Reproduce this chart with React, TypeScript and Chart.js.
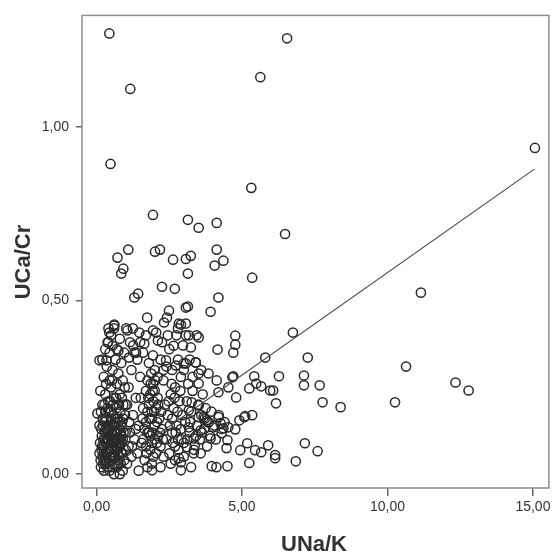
import React, { useEffect, useRef } from "react";
import { Chart, registerables } from "chart.js";

Chart.register(...registerables);

// ---- Data (UNa/K on x, UCa/Cr on y) ----
const sparsePoints: number[][] = [
  [0.44, 1.27], [1.16, 1.11], [0.48, 0.894], [6.55, 1.256], [5.63, 1.144], [5.32, 0.825],
  [6.48, 0.692], [15.07, 0.94], [11.15, 0.523], [6.75, 0.408], [7.26, 0.336], [10.64, 0.31],
  [12.34, 0.264], [12.79, 0.241], [6.27, 0.282], [7.13, 0.284], [7.13, 0.256], [7.67, 0.256],
  [7.77, 0.207], [8.39, 0.193], [10.26, 0.207], [7.16, 0.089], [7.6, 0.066], [6.85, 0.037],
  [6.14, 0.046], [6.17, 0.204], [6.07, 0.241],
];

const upperPoints: number[][] = [
  [1.94, 0.747], [3.14, 0.733], [3.51, 0.71], [4.13, 0.724], [4.13, 0.647], [4.36, 0.615],
  [4.06, 0.601], [3.24, 0.629], [3.07, 0.62], [3.14, 0.578], [5.35, 0.566], [4.19, 0.509],
  [3.14, 0.483], [3.92, 0.468], [1.09, 0.647], [0.72, 0.624], [2.01, 0.641], [2.18, 0.647],
  [2.63, 0.618], [0.92, 0.592], [0.85, 0.578], [2.25, 0.54], [2.69, 0.534], [1.43, 0.52],
  [1.3, 0.509], [1.74, 0.451], [2.49, 0.471], [2.42, 0.451], [3.07, 0.48], [0.61, 0.431],
  [2.9, 0.431], [1.02, 0.42], [0.41, 0.42],
];

const midRangePoints: number[][] = [
  [4.77, 0.399], [4.77, 0.373], [4.7, 0.35], [4.16, 0.359], [5.8, 0.336], [5.42, 0.282],
  [4.7, 0.282], [4.8, 0.221], [5.25, 0.247], [5.66, 0.253], [5.97, 0.241], [5.35, 0.17],
  [5.08, 0.164], [4.91, 0.155], [4.77, 0.129], [5.18, 0.089], [4.94, 0.069], [5.45, 0.069],
  [5.66, 0.063], [5.9, 0.083], [6.14, 0.055], [5.25, 0.032], [4.5, 0.023], [4.12, 0.02],
  [3.96, 0.023], [4.5, 0.098], [4.3, 0.118], [4.53, 0.135], [4.19, 0.164], [3.85, 0.149],
  [3.51, 0.164], [3.58, 0.06], [3.38, 0.083], [2.9, 0.011], [2.9, 0.034], [1.91, 0.011],
  [2.83, 0.046], [4.19, 0.236], [3.85, 0.29], [3.51, 0.261], [3.27, 0.207], [3.51, 0.198],
  [3.17, 0.184], [3.41, 0.322], [4.13, 0.27], [4.67, 0.279], [4.53, 0.25], [5.49, 0.261],
  [5.11, 0.167], [4.36, 0.132], [3.92, 0.103], [4.47, 0.075], [3.68, 0.164], [3.58, 0.126],
  [3.17, 0.135], [3.34, 0.103], [3.78, 0.155], [4.02, 0.135], [4.26, 0.147], [3.1, 0.078],
  [3.34, 0.06], [3.07, 0.4], [3.44, 0.4], [3.24, 0.365], [3.07, 0.319],
];

const lowerBandPoints: number[][] = [
  [0.61, 0.428], [0.44, 0.408], [0.38, 0.38], [1.06, 0.414], [1.47, 0.408], [2.05, 0.408],
  [2.83, 0.434], [3.07, 0.434], [3.17, 0.4], [3.51, 0.394], [0.1, 0.328], [1.12, 0.336],
  [1.36, 0.35], [2.39, 0.328], [2.73, 0.313], [3.0, 0.319], [3.41, 0.322], [3.51, 0.29],
  [1.94, 0.414], [2.32, 0.437], [2.8, 0.42], [2.97, 0.371], [0.34, 0.328], [0.75, 0.356],
  [1.26, 0.371], [1.64, 0.376], [2.11, 0.385], [1.94, 0.342], [0.03, 0.175],
];

const clusterLowNa: number[][] = [
  [0.15, 0.02], [0.2, 0.05], [0.25, 0.08], [0.3, 0.03], [0.35, 0.06], [0.4, 0.1], [0.45, 0.04],
  [0.5, 0.07], [0.55, 0.02], [0.6, 0.09], [0.65, 0.05], [0.7, 0.12], [0.75, 0.03], [0.8, 0.08],
  [0.85, 0.06], [0.9, 0.1], [0.95, 0.04], [1.0, 0.07], [0.18, 0.11], [0.22, 0.14], [0.28, 0.12],
  [0.33, 0.16], [0.38, 0.13], [0.42, 0.18], [0.48, 0.15], [0.52, 0.12], [0.58, 0.17], [0.62, 0.14],
  [0.68, 0.19], [0.72, 0.16], [0.78, 0.13], [0.82, 0.18], [0.88, 0.15], [0.92, 0.2], [0.98, 0.17],
  [0.12, 0.09], [0.17, 0.07], [0.23, 0.1], [0.27, 0.04], [0.32, 0.09], [0.37, 0.02], [0.43, 0.07],
  [0.47, 0.11], [0.53, 0.05], [0.57, 0.1], [0.63, 0.03], [0.67, 0.08], [0.73, 0.06], [0.77, 0.1],
  [0.83, 0.03], [0.87, 0.09], [0.93, 0.12], [0.2, 0.2], [0.3, 0.23], [0.4, 0.21], [0.5, 0.25],
  [0.6, 0.22], [0.7, 0.26], [0.8, 0.23], [0.9, 0.27], [0.25, 0.28], [0.35, 0.31], [0.45, 0.27],
  [0.55, 0.3], [0.65, 0.33], [0.75, 0.29], [0.85, 0.32], [0.2, 0.33], [0.3, 0.36], [0.4, 0.38],
  [0.5, 0.4], [0.6, 0.42], [0.45, 0.35], [0.55, 0.37], [0.7, 0.36], [0.8, 0.39], [0.95, 0.35],
  [0.15, 0.18], [0.1, 0.06], [0.1, 0.14], [0.3, 0.18], [0.5, 0.18], [0.7, 0.02], [0.9, 0.01],
  [0.25, 0.01], [0.45, 0.01], [0.6, 0.0], [0.8, 0.0],
  [0.14, 0.04], [0.19, 0.08], [0.24, 0.06], [0.29, 0.1], [0.34, 0.04], [0.39, 0.07], [0.44, 0.05],
  [0.49, 0.09], [0.54, 0.08], [0.59, 0.05], [0.64, 0.1], [0.69, 0.07], [0.74, 0.09], [0.79, 0.05],
  [0.84, 0.11], [0.89, 0.06], [0.16, 0.13], [0.21, 0.16], [0.26, 0.15], [0.31, 0.13], [0.36, 0.1],
  [0.41, 0.14], [0.46, 0.13], [0.51, 0.16], [0.56, 0.14], [0.61, 0.12], [0.66, 0.15], [0.71, 0.1],
  [0.76, 0.15], [0.81, 0.12], [0.86, 0.14], [0.91, 0.16], [0.22, 0.03], [0.32, 0.06], [0.42, 0.03],
  [0.52, 0.1], [0.62, 0.07], [0.72, 0.04], [0.82, 0.1], [0.27, 0.2], [0.37, 0.19], [0.47, 0.21],
  [0.57, 0.2], [0.67, 0.22], [0.77, 0.2], [0.87, 0.22], [0.13, 0.24], [0.33, 0.26], [0.53, 0.27],
  [1.0, 0.12], [1.0, 0.2], [0.97, 0.25],
];

const clusterMidNa: number[][] = [
  [1.05, 0.03], [1.1, 0.08], [1.15, 0.12], [1.2, 0.05], [1.25, 0.17], [1.3, 0.1], [1.35, 0.22],
  [1.4, 0.06], [1.45, 0.14], [1.5, 0.28], [1.55, 0.09], [1.6, 0.19], [1.65, 0.04], [1.7, 0.24],
  [1.75, 0.12], [1.8, 0.32], [1.85, 0.07], [1.9, 0.16], [1.95, 0.26], [2.0, 0.1], [1.1, 0.25],
  [1.2, 0.3], [1.3, 0.35], [1.4, 0.33], [1.5, 0.38], [1.6, 0.35], [1.7, 0.4], [1.15, 0.38],
  [1.25, 0.42], [1.05, 0.2], [1.45, 0.01], [1.75, 0.02], [1.9, 0.03], [1.8, 0.2], [1.85, 0.23],
  [1.9, 0.18], [1.95, 0.21], [2.0, 0.24], [2.05, 0.19], [2.1, 0.22], [1.75, 0.27], [1.88, 0.29],
  [2.0, 0.3], [1.7, 0.15], [1.8, 0.12], [1.9, 0.09], [2.0, 0.14], [2.1, 0.11], [2.2, 0.08],
  [2.15, 0.16], [2.25, 0.13], [2.3, 0.05], [2.2, 0.02], [1.95, 0.05], [2.05, 0.06],
  [1.6, 0.1], [1.65, 0.13], [1.7, 0.08], [1.75, 0.18], [1.78, 0.22], [1.82, 0.16], [1.86, 0.26],
  [1.92, 0.12], [1.98, 0.18], [2.02, 0.27], [2.08, 0.15], [2.12, 0.2], [2.18, 0.12], [2.22, 0.18],
  [2.28, 0.1], [1.85, 0.11], [1.93, 0.24], [2.07, 0.09], [1.72, 0.06], [1.58, 0.16], [1.52, 0.22],
  [1.35, 0.13], [1.22, 0.08], [1.12, 0.15],
];

const clusterHighNa: number[][] = [
  [2.1, 0.28], [2.2, 0.33], [2.3, 0.27], [2.4, 0.31], [2.5, 0.36], [2.6, 0.3], [2.7, 0.25],
  [2.8, 0.33], [2.9, 0.28], [2.35, 0.2], [2.45, 0.17], [2.55, 0.23], [2.65, 0.19], [2.75, 0.14],
  [2.85, 0.21], [2.95, 0.17], [2.4, 0.1], [2.5, 0.06], [2.6, 0.12], [2.7, 0.08], [2.8, 0.1],
  [2.9, 0.13], [2.55, 0.03], [2.45, 0.4], [2.25, 0.38], [2.65, 0.37], [2.75, 0.4], [2.3, 0.3],
  [2.6, 0.16], [2.7, 0.04], [3.0, 0.09], [3.05, 0.15], [3.1, 0.21], [3.15, 0.26], [3.2, 0.12],
  [3.25, 0.18], [3.3, 0.24], [3.35, 0.07], [3.45, 0.14], [3.5, 0.2], [3.55, 0.1], [3.6, 0.17],
  [3.65, 0.23], [3.7, 0.13], [3.75, 0.19], [3.8, 0.08], [3.85, 0.15], [3.9, 0.11], [3.95, 0.18],
  [4.05, 0.14], [4.1, 0.1], [4.2, 0.17], [4.3, 0.13], [4.4, 0.15], [3.0, 0.3], [3.2, 0.33],
  [3.3, 0.28], [3.6, 0.3], [3.0, 0.05], [3.25, 0.02],
  [2.52, 0.14], [2.62, 0.09], [2.72, 0.12], [2.82, 0.07], [2.92, 0.1], [2.48, 0.21], [2.58, 0.26],
  [2.68, 0.22], [2.78, 0.18], [2.88, 0.24], [3.12, 0.1], [3.22, 0.15], [3.42, 0.11], [3.62, 0.12],
  [3.72, 0.16],
];

// Linear fit line endpoints
const fitX = [0.15, 15.05];
const fitY = [-0.001, 0.879];

const xTicks = [0, 5, 10, 15];
const yTicks = [0, 0.5, 1];
const xTitle = "UNa/K";
const yTitle = "UCa/Cr";

const fmt = (v: number) => Number(v).toFixed(2).replace(".", ",");

const framePlugin = {
  id: "frame",
  beforeDatasetsDraw(chart: any) {
    const { ctx, chartArea: a } = chart;
    ctx.save();
    ctx.strokeStyle = "#8d8d8d";
    ctx.lineWidth = 1.5;
    ctx.strokeRect(a.left, a.top, a.right - a.left, a.bottom - a.top);
    ctx.restore();
  },
};

const titlesPlugin = {
  id: "axisTitles",
  afterDraw(chart: any) {
    const { ctx } = chart;
    ctx.save();
    ctx.fillStyle = "#333";
    ctx.font = "bold 22px 'Liberation Sans', Arial, sans-serif";
    ctx.textAlign = "center";
    ctx.textBaseline = "middle";
    ctx.fillText(xTitle, 314, 545);
    ctx.translate(24, 262);
    ctx.rotate(-Math.PI / 2);
    ctx.fillText(yTitle, 0, 0);
    ctx.restore();
  },
};

export default function App() {
  const ref = useRef<HTMLCanvasElement | null>(null);

  useEffect(() => {
    if (!ref.current) return;
    const all = [
      ...sparsePoints,
      ...upperPoints,
      ...midRangePoints,
      ...lowerBandPoints,
      ...clusterLowNa,
      ...clusterMidNa,
      ...clusterHighNa,
    ].map(([x, y]) => ({ x, y }));
    const fit = fitX.map((x, i) => ({ x, y: fitY[i] }));

    const chart = new Chart(ref.current, {
      type: "scatter",
      data: {
        datasets: [
          {
            type: "line",
            data: fit,
            borderColor: "#444",
            borderWidth: 1.1,
            pointRadius: 0,
            fill: false,
          } as any,
          {
            type: "scatter",
            data: all,
            pointRadius: 4.6,
            pointBorderWidth: 1.5,
            pointBackgroundColor: "rgba(0,0,0,0)",
            pointBorderColor: "#2a2a2a",
          },
        ],
      },
      options: {
        responsive: false,
        animation: false,
        events: [],
        layout: { padding: { left: 0, top: 14, right: 2, bottom: 0 } },
        plugins: { legend: { display: false }, tooltip: { enabled: false } },
        scales: {
          x: {
            type: "linear",
            min: -0.5,
            max: 15.55,
            afterBuildTicks: (s: any) => {
              s.ticks = xTicks.map((v) => ({ value: v }));
            },
            afterFit: (s: any) => {
              s.height = 68;
            },
            border: { display: false },
            grid: { drawOnChartArea: false, drawTicks: true, tickLength: 8, color: "#666", lineWidth: 1.5 },
            ticks: {
              padding: 3,
              color: "#333",
              font: { family: "'Liberation Sans', Arial, sans-serif", size: 14 },
              callback: (v: any) => fmt(v),
              maxRotation: 0,
            },
          },
          y: {
            type: "linear",
            min: -0.04,
            max: 1.322,
            afterBuildTicks: (s: any) => {
              s.ticks = yTicks.map((v) => ({ value: v }));
            },
            afterFit: (s: any) => {
              s.width = 82;
            },
            border: { display: false },
            grid: { drawOnChartArea: false, drawTicks: true, tickLength: 6, color: "#666", lineWidth: 1.5 },
            ticks: {
              padding: 7,
              color: "#333",
              font: { family: "'Liberation Sans', Arial, sans-serif", size: 14 },
              callback: (v: any) => fmt(v),
            },
          },
        },
      },
      plugins: [framePlugin, titlesPlugin],
    });
    return () => chart.destroy();
  }, []);

  return (
    <div style={{ position: "absolute", left: 0, top: 0, width: 555, height: 556, background: "#fff" }}>
      <canvas ref={ref} width={555} height={556} style={{ width: 555, height: 556, display: "block" }} />
    </div>
  );
}
